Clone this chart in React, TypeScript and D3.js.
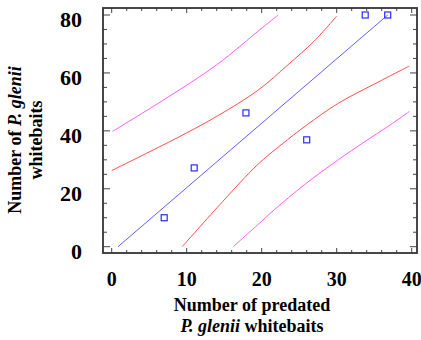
import React from 'react';
import * as d3 from 'd3';

// observed points (predated whitebaits vs counted whitebaits)
const observed: [number, number][] = [
  [7, 10], [11, 27.2], [17.9, 46.2], [26, 36.9], [33.8, 80], [36.8, 80],
];

// fitted regression line
const fitLine: [number, number][] = [[0.84, 0], [36.8, 80]];

// 95% confidence band (red)
const ciUpper: [number, number][] = [
  [0, 26.3], [5, 32.7], [10, 39.3], [14, 45], [19.5, 54], [23.5, 62.8], [27, 71], [30, 79.6],
];
const ciLower: [number, number][] = [
  [9.4, 0], [14.8, 15.6], [19.4, 28.2], [22.6, 35.2], [26, 42], [30.2, 49.5], [35.5, 56.8], [39.7, 62.4],
];

// 95% prediction band (magenta)
const piUpper: [number, number][] = [
  [0.1, 39.8], [7.3, 51.3], [14, 62.8], [19.7, 74.8], [22.2, 80],
];
const piLower: [number, number][] = [
  [16.2, 0], [19.4, 7.4], [21.7, 12.8], [25.7, 21.4], [30.2, 30], [33.7, 36.2], [37.1, 42], [39.7, 46.7],
];

const xTicks = [0, 10, 20, 30, 40];
const yTicks = [0, 20, 40, 60, 80];

const W = 421;
const H = 340;
const frame = { left: 103, right: 417, top: 8, bottom: 253 };
const font = '"Liberation Serif", "Times New Roman", serif';

const App = () => {
  const x = d3.scaleLinear().domain([0, 40]).range([111.7, 411.7]);
  const y = d3.scaleLinear().domain([0, 80]).range([246.7, 15]);

  const line = d3.line<[number, number]>()
    .x(d => x(d[0]))
    .y(d => y(d[1]))
    .curve(d3.curveCatmullRom.alpha(0.5));

  const xMinor = d3.range(0, 41, 2).filter(v => v % 10 !== 0);
  const yMinor = d3.range(0, 81, 5).filter(v => v % 20 !== 0);

  const tickColor = '#444';

  return (
    <svg width={W} height={H} style={{ position: 'absolute', left: 0, top: 0, background: '#fff' }}>
      {/* ticks, mirrored on all four sides, pointing inward */}
      <g stroke={tickColor} strokeWidth={1}>
        {xTicks.map(t => (
          <g key={'xt' + t}>
            <line x1={x(t)} x2={x(t)} y1={frame.bottom} y2={frame.bottom - 5} />
            <line x1={x(t)} x2={x(t)} y1={frame.top} y2={frame.top + 5} />
          </g>
        ))}
        {xMinor.map(t => (
          <g key={'xm' + t}>
            <line x1={x(t)} x2={x(t)} y1={frame.bottom} y2={frame.bottom - 3} />
            <line x1={x(t)} x2={x(t)} y1={frame.top} y2={frame.top + 3} />
          </g>
        ))}
        {yTicks.map(t => (
          <g key={'yt' + t}>
            <line x1={frame.left} x2={frame.left + 7} y1={y(t)} y2={y(t)} />
            <line x1={frame.right} x2={frame.right - 7} y1={y(t)} y2={y(t)} />
          </g>
        ))}
        {yMinor.map(t => (
          <g key={'ym' + t}>
            <line x1={frame.left} x2={frame.left + 4} y1={y(t)} y2={y(t)} />
            <line x1={frame.right} x2={frame.right - 4} y1={y(t)} y2={y(t)} />
          </g>
        ))}
      </g>
      <rect
        x={frame.left}
        y={frame.top}
        width={frame.right - frame.left}
        height={frame.bottom - frame.top}
        fill="none"
        stroke="#333"
        strokeWidth={1.8}
      />

      {/* bands and fit */}
      <path d={line(piUpper) || ''} fill="none" stroke="#ff5cff" strokeWidth={1} />
      <path d={line(piLower) || ''} fill="none" stroke="#ff5cff" strokeWidth={1} />
      <path d={line(ciUpper) || ''} fill="none" stroke="#ff4d4d" strokeWidth={1} />
      <path d={line(ciLower) || ''} fill="none" stroke="#ff4d4d" strokeWidth={1} />
      <path d={line(fitLine) || ''} fill="none" stroke="#6060ff" strokeWidth={1} />

      {observed.map((d, i) => (
        <rect
          key={i}
          x={x(d[0]) - 3}
          y={y(d[1]) - 3}
          width={6}
          height={6}
          fill="none"
          stroke="#2a2aff"
          strokeWidth={1.2}
        />
      ))}

      {/* tick labels */}
      <g fontFamily={font} fontWeight="bold" fill="#000">
        {xTicks.map(t => (
          <text key={'xl' + t} x={x(t)} y={286} fontSize={20} textAnchor="middle">{t}</text>
        ))}
        {yTicks.map(t => (
          <text key={'yl' + t} x={82} y={y(t) + 12} fontSize={22} textAnchor="end">{t}</text>
        ))}
      </g>

      {/* axis titles */}
      <g fontFamily={font} fontWeight="bold" fontSize={18} fill="#000">
        <text x={252} y={311} textAnchor="middle">Number of predated</text>
        <text x={252} y={332} textAnchor="middle">
          <tspan fontStyle="italic">P. glenii</tspan> whitebaits
        </text>
        <g transform="translate(21,140) rotate(-90)">
          <text x={0} y={0} textAnchor="middle">
            Number of <tspan fontStyle="italic">P. glenii</tspan>
          </text>
          <text x={0} y={21} textAnchor="middle">whitebaits</text>
        </g>
      </g>
    </svg>
  );
};

export default App;
